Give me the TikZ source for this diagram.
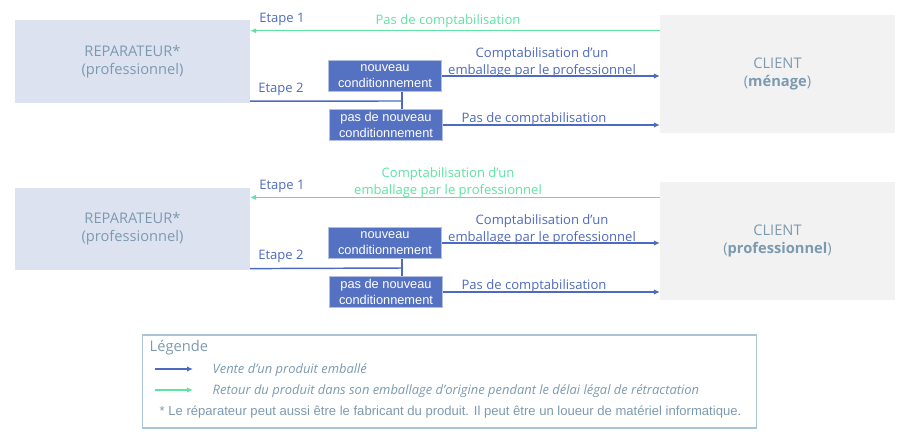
\documentclass[tikz,border=0pt]{standalone}
\usepackage{fontspec}
\setmainfont{Open Sans}
\newfontfamily\arialfont{Liberation Sans}
\usetikzlibrary{arrows.meta,positioning}
\definecolor{RepFill}{HTML}{DDE2F1}
\definecolor{ClientFill}{HTML}{F2F2F2}
\definecolor{VenteBlue}{HTML}{4E6AC0}
\definecolor{BoxBlue}{HTML}{5571C1}
\definecolor{RetourGreen}{HTML}{5EE3A3}
\definecolor{SlateText}{HTML}{7C9AAF}
\definecolor{FrameBlue}{HTML}{A9C4D4}

\begin{document}
\begin{tikzpicture}[x=0.75pt,y=-0.75pt,
      actor/.style={rectangle,minimum width=176pt,align=center,text=SlateText,
      font=\fontsize{11}{13.5}\selectfont},
      choice/.style={rectangle,fill=BoxBlue,draw=BoxBlue!45,text=white,align=center,
      minimum width=85pt,minimum height=23pt,inner xsep=2pt,inner ysep=0.5pt,
      font=\arialfont\fontsize{9.6}{11.8}\selectfont},
      lbl/.style={font=\fontsize{9.8}{12.75}\selectfont,align=center},
      link/.style={VenteBlue,line width=1.1pt},
      vente/.style={-{Latex[length=4.5pt,width=4pt]},VenteBlue,line width=1.1pt},
      retour/.style={-{Latex[length=4.5pt,width=4pt]},RetourGreen,line width=1.1pt}]
      \useasboundingbox (0,0) rectangle (907,439);
      % menage
      \node[actor,fill=RepFill,minimum height=62pt] (repA) at (132.5,61.5) {REPARATEUR*\\(professionnel)};
      \node[actor,fill=ClientFill,minimum height=88.5pt] (cliA) at (777.5,74) {CLIENT\\(\textbf{ménage})};
      \node[choice] (nvA) at (385,76) {nouveau\\conditionnement};
      \node[choice] (pasA) at (386,125) {pas de nouveau\\conditionnement};
      \coordinate (jA) at (402,101);
      \draw[retour] ([yshift=-12pt]cliA.north west) coordinate (gA) -- (gA -| repA.east);
      \draw[link] ([yshift=1.5pt]repA.south east) -- (jA);
      \draw[link] (nvA.south -| jA) -- (pasA.north -| jA);
      \draw[vente] (nvA.east) -- (nvA.east -| cliA.west);
      \draw[vente] (pasA.east) -- (pasA.east -| cliA.west);
      \node[lbl,text=VenteBlue] (e1A) at (282,19.5) {Etape 1};
      \node[lbl,text=RetourGreen] (gtA) at (448,21.5) {Pas de comptabilisation};
      \node[lbl,text=VenteBlue] (e2A) at (281,89.5) {Etape 2};
      \node[lbl,text=VenteBlue] (c1A) at (542,62.5) {Comptabilisation d’un\\emballage par le professionnel};
      \node[lbl,text=VenteBlue] (c2A) at (534,119.5) {Pas de comptabilisation};
      % professionnel
      \node[actor,fill=RepFill,minimum height=62pt] (repB) at (132.5,229) {REPARATEUR*\\(professionnel)};
      \node[actor,fill=ClientFill,minimum height=89pt] (cliB) at (777.5,241) {CLIENT\\(\textbf{professionnel})};
      \node[choice] (nvB) at (385,243) {nouveau\\conditionnement};
      \node[choice] (pasB) at (386,292) {pas de nouveau\\conditionnement};
      \coordinate (jB) at (402,268);
      \draw[retour] ([yshift=-12pt]cliB.north west) coordinate (gB) -- (gB -| repB.east);
      \draw[link] ([yshift=1.5pt]repB.south east) -- (jB);
      \draw[link] (nvB.south -| jB) -- (pasB.north -| jB);
      \draw[vente] (nvB.east) -- (nvB.east -| cliB.west);
      \draw[vente] (pasB.east) -- (pasB.east -| cliB.west);
      \node[lbl,text=VenteBlue] (e1B) at (282,186.5) {Etape 1};
      \node[lbl,text=RetourGreen] (gtB) at (448,182.5) {Comptabilisation d’un\\emballage par le professionnel};
      \node[lbl,text=VenteBlue] (e2B) at (281,256.5) {Etape 2};
      \node[lbl,text=VenteBlue] (c1B) at (542,229.5) {Comptabilisation d’un\\emballage par le professionnel};
      \node[lbl,text=VenteBlue] (c2B) at (534,286.5) {Pas de comptabilisation};
      % legende
      \node[draw=FrameBlue,line width=0.8pt,minimum width=461pt,minimum height=69.75pt] (leg) at (449.5,381.5) {};
      \node[anchor=west,text=SlateText,font=\fontsize{11}{13}\selectfont] (legT) at (145,348) {Légende};
      \coordinate (lv) at (155,369);
      \coordinate (lr) at (155,390);
      \draw[vente,line width=0.8pt] (lv) -- ++(38,0);
      \draw[retour,line width=0.8pt] (lr) -- ++(38,0);
      \node[anchor=west,text=SlateText,font=\itshape\fontsize{9.7}{11}\selectfont] (lvT) at (208,370) {Vente d’un produit emballé};
      \node[anchor=west,text=SlateText,font=\itshape\fontsize{9.7}{11}\selectfont] (lrT) at (208,391) {Retour du produit dans son emballage d’origine pendant le délai légal de rétractation};
      \node[anchor=west,text=SlateText,font=\arialfont\fontsize{9.8}{11}\selectfont] (note) at (155,412) {* Le réparateur peut aussi être le fabricant du produit. Il peut être un loueur de matériel informatique.};
    \end{tikzpicture}
\end{document}
